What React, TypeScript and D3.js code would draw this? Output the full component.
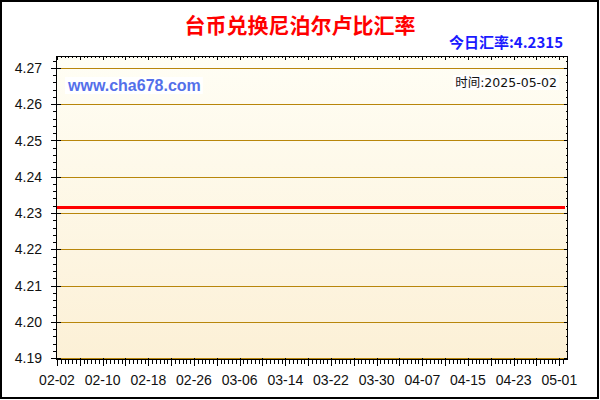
import React, { useEffect, useRef } from "react";
import * as d3 from "d3";

const title = "台币兑换尼泊尔卢比汇率";
const todayLabel = "今日汇率:4.2315";
const timeLabel = "时间:2025-05-02";
const siteLabel = "www.cha678.com";

// sampled points (rate stayed flat over the period)
const rateDates = ["2025-02-02", "2025-02-18", "2025-03-06", "2025-03-22", "2025-04-07", "2025-04-23", "2025-05-02"];
const rateValues = [4.2315, 4.2315, 4.2315, 4.2315, 4.2315, 4.2315, 4.2315];

const yTicks = [4.19, 4.2, 4.21, 4.22, 4.23, 4.24, 4.25, 4.26, 4.27];
const xTickLabels = ["02-02", "02-10", "02-18", "02-26", "03-06", "03-14", "03-22", "03-30", "04-07", "04-15", "04-23", "05-01"];

const parseDay = (s: string) => {
  const [y, m, d] = s.split("-").map(Number);
  return new Date(Date.UTC(y, m - 1, d));
};

const W = 600;
const H = 400;
const plot = { left: 56, right: 568, top: 56, bottom: 360 };
const FONT = "'Liberation Sans', Arial, sans-serif";
const CJK = "'Noto Sans CJK SC', 'Noto Sans', sans-serif";

const App: React.FC = () => {
  const svgRef = useRef<SVGSVGElement>(null);

  useEffect(() => {
    const svg = d3.select(svgRef.current);
    svg.selectAll("*").remove();

    const x = d3
      .scaleUtc()
      .domain([parseDay(rateDates[0]), parseDay(rateDates[rateDates.length - 1])])
      .range([57, 565]);
    const y = d3.scaleLinear().domain([4.19, 4.27]).range([358, 68]);

    const defs = svg.append("defs");
    const grad = defs
      .append("linearGradient")
      .attr("id", "bg")
      .attr("x1", 0)
      .attr("y1", 0)
      .attr("x2", 0)
      .attr("y2", 1);
    grad.append("stop").attr("offset", "0%").attr("stop-color", "#fffef5");
    grad.append("stop").attr("offset", "100%").attr("stop-color", "#fcf0d6");

    svg.append("rect").attr("width", W).attr("height", H).attr("fill", "#fff");

    svg
      .append("rect")
      .attr("x", plot.left)
      .attr("y", plot.top)
      .attr("width", plot.right - plot.left)
      .attr("height", plot.bottom - plot.top)
      .attr("fill", "url(#bg)");

    // grid lines
    svg
      .append("g")
      .selectAll("line")
      .data(yTicks)
      .join("line")
      .attr("x1", plot.left)
      .attr("x2", plot.right)
      .attr("y1", (d) => Math.round(y(d)) + 0.5)
      .attr("y2", (d) => Math.round(y(d)) + 0.5)
      .attr("stroke", "#b8860b")
      .attr("stroke-width", 1);

    // rate line
    const line = d3
      .line<number>()
      .x((_, i) => x(parseDay(rateDates[i])))
      .y((d) => y(d));
    svg
      .append("path")
      .attr("d", line(rateValues))
      .attr("fill", "none")
      .attr("stroke", "#ff0000")
      .attr("stroke-width", 3);

    // axes frame
    const axis = svg.append("g").attr("stroke", "#000").attr("stroke-width", 1);
    axis
      .append("rect")
      .attr("x", plot.left + 0.5)
      .attr("y", plot.top + 0.5)
      .attr("width", plot.right - plot.left - 1)
      .attr("height", plot.bottom - plot.top - 1)
      .attr("fill", "none")
      .attr("stroke", "#000");

    // y ticks
    const yMinor = d3.range(4.19, 4.2734, 0.002).filter((v) => y(v) >= plot.top);
    yMinor.forEach((v, i) => {
      const py = Math.round(y(v)) + 0.5;
      const major = i % 5 === 0;
      axis
        .append("line")
        .attr("x1", major ? 51 : 53)
        .attr("x2", major ? 61 : plot.left)
        .attr("y1", py)
        .attr("y2", py);
      axis
        .append("line")
        .attr("x1", plot.right - (major ? 4 : 2))
        .attr("x2", plot.right)
        .attr("y1", py)
        .attr("y2", py);
    });

    // x ticks (major every 4 days, 6 minor steps between)
    const start = parseDay(rateDates[0]).getTime();
    const step = (4 * 24 * 3600 * 1000) / 6;
    let k = 0;
    while (true) {
      const t = new Date(start + k * step);
      const px = Math.round(x(t)) + 0.5;
      if (px > plot.right - 1) break;
      const major = k % 6 === 0;
      axis
        .append("line")
        .attr("x1", px)
        .attr("x2", px)
        .attr("y1", major ? plot.bottom - 2 : plot.bottom)
        .attr("y2", major ? plot.bottom + 6 : plot.bottom + 4);
      axis
        .append("line")
        .attr("x1", px)
        .attr("x2", px)
        .attr("y1", plot.top)
        .attr("y2", plot.top + (major ? 4 : 2));
      k++;
    }

    // y labels
    svg
      .append("g")
      .selectAll("text")
      .data(yTicks)
      .join("text")
      .attr("x", 42)
      .attr("y", (d) => y(d) + 5)
      .attr("text-anchor", "end")
      .attr("font-family", FONT)
      .attr("font-size", 14)
      .attr("fill", "#111")
      .text((d) => d.toFixed(2));

    // x labels
    svg
      .append("g")
      .selectAll("text")
      .data(xTickLabels)
      .join("text")
      .attr("x", (d) => x(parseDay("2025-" + d)))
      .attr("y", 385)
      .attr("text-anchor", "middle")
      .attr("font-family", FONT)
      .attr("font-size", 14)
      .attr("fill", "#111")
      .text((d) => d);

    // title
    svg
      .append("text")
      .attr("x", 300)
      .attr("y", 33)
      .attr("text-anchor", "middle")
      .attr("font-family", CJK)
      .attr("font-weight", "bold")
      .attr("font-size", 21)
      .attr("fill", "#ff0000")
      .text(title);

    svg
      .append("text")
      .attr("x", 563)
      .attr("y", 48)
      .attr("text-anchor", "end")
      .attr("font-family", CJK)
      .attr("font-weight", "bold")
      .attr("font-size", 15)
      .attr("fill", "#1a1aff")
      .text(todayLabel);

    // labels with white boxes
    const boxed = (txt: string, px: number, py: number, anchor: string, size: number, weight: string, color: string, family: string) => {
      const g = svg.append("g");
      const bg = g.append("rect").attr("fill", "#fff");
      const t = g
        .append("text")
        .attr("x", px)
        .attr("y", py)
        .attr("text-anchor", anchor)
        .attr("font-family", family)
        .attr("font-size", size)
        .attr("font-weight", weight)
        .attr("fill", color)
        .text(txt);
      const b = (t.node() as SVGTextElement).getBBox();
      bg.attr("x", b.x - 2)
        .attr("y", b.y)
        .attr("width", b.width + 4)
        .attr("height", b.height);
    };
    boxed(siteLabel, 68, 91, "start", 16, "bold", "#5470ea", FONT);
    boxed(timeLabel, 557, 87, "end", 12.5, "normal", "#111", "'DejaVu Sans', 'Noto Sans CJK SC', sans-serif");

    // outer border
    svg
      .append("rect")
      .attr("x", 1)
      .attr("y", 1)
      .attr("width", 597)
      .attr("height", 397)
      .attr("fill", "none")
      .attr("stroke", "#000")
      .attr("stroke-width", 2);
  }, []);

  return (
    <svg
      ref={svgRef}
      width={W}
      height={H}
      style={{ position: "absolute", left: 0, top: 0 }}
    />
  );
};

export default App;
